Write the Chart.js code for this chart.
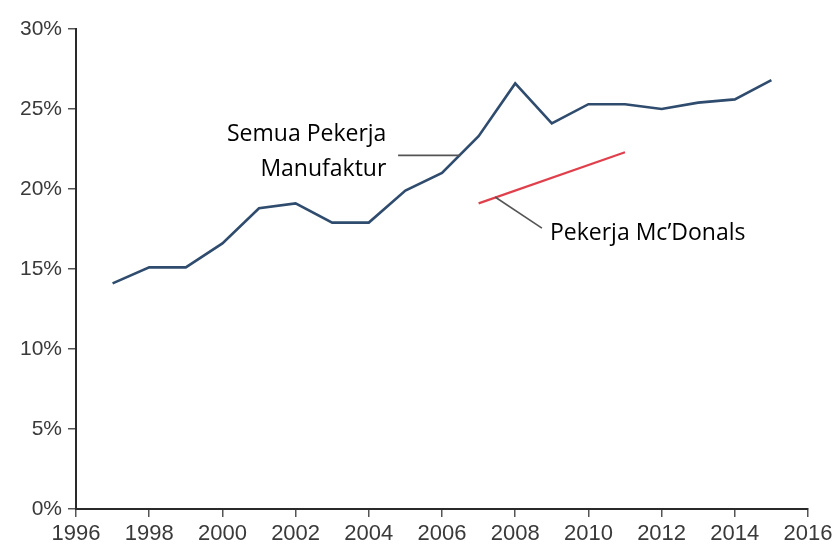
<!DOCTYPE html>
<html>
<head>
<meta charset="utf-8">
<script src="https://cdn.jsdelivr.net/npm/chart.js@4"></script>
<style>
  html, body { margin: 0; padding: 0; background: #fff; }
  #wrap { width: 838px; height: 548px; }
</style>
</head>
<body>
<div id="wrap"><canvas id="chart" width="838" height="548"></canvas></div>
<script>
// ── data ──
const years = [1997, 1998, 1999, 2000, 2001, 2002, 2003, 2004, 2005, 2006,
               2007, 2008, 2009, 2010, 2011, 2012, 2013, 2014, 2015];
const manufaktur = [14.1, 15.1, 15.1, 16.6, 18.8, 19.1, 17.9, 17.9, 19.9, 21.0,
                    23.3, 26.6, 24.1, 25.3, 25.3, 25.0, 25.4, 25.6, 26.8];
const mcdYears = [2007, 2011];
const mcdonals = [19.1, 22.3];
const yTicks = [0, 5, 10, 15, 20, 25, 30];

const AXIS = '#2a2a2a';
const LABEL = '#3a3a3a';

// callout labels, anchored in data units
const callouts = [
    { lines: ['Semua Pekerja', 'Manufaktur'], x: 2004.48, y: [23.4, 21.2], align: 'right',
      from: [2004.8, 22.1], to: [2006.5, 22.1] },
    { lines: ['Pekerja Mc’Donals'], x: 2008.95, y: [17.25], align: 'left',
      from: [2007.45, 19.5], to: [2008.73, 17.55] }
];

const calloutPlugin = {
    id: 'callouts',
    afterDatasetsDraw(chart) {
        const { ctx, scales: { x, y } } = chart;
        ctx.save();
        callouts.forEach(c => {
            ctx.strokeStyle = '#555';
            ctx.lineWidth = 1.6;
            ctx.beginPath();
            ctx.moveTo(x.getPixelForValue(c.from[0]), y.getPixelForValue(c.from[1]));
            ctx.lineTo(x.getPixelForValue(c.to[0]), y.getPixelForValue(c.to[1]));
            ctx.stroke();
            ctx.fillStyle = '#000';
            ctx.font = '23px "Open Sans", sans-serif';
            ctx.textAlign = c.align;
            ctx.textBaseline = 'middle';
            c.lines.forEach((t, i) => {
                ctx.fillText(t, x.getPixelForValue(c.x), y.getPixelForValue(c.y[i]));
            });
        });
        ctx.restore();
    }
};

new Chart(document.getElementById('chart'), {
    type: 'line',
    data: {
        datasets: [{
            label: 'Semua Pekerja Manufaktur',
            data: years.map((yr, i) => ({ x: yr, y: manufaktur[i] })),
            borderColor: '#2f4c6e',
            borderWidth: 2.6,
            pointRadius: 0,
            tension: 0
        }, {
            label: 'Pekerja Mc’Donals',
            data: mcdYears.map((yr, i) => ({ x: yr, y: mcdonals[i] })),
            borderColor: '#e0404c',
            borderWidth: 2.2,
            pointRadius: 0,
            tension: 0
        }]
    },
    options: {
        responsive: false,
        animation: false,
        layout: { padding: { top: 29, right: 30, left: 0, bottom: 0 } },
        plugins: { legend: { display: false }, tooltip: { enabled: false } },
        scales: {
            x: {
                type: 'linear',
                min: 1996,
                max: 2016,
                afterFit: s => { s.height = 39; },
                border: { display: true, color: AXIS, width: 2 },
                grid: { drawOnChartArea: false, drawTicks: true, tickLength: 8, color: '#555', lineWidth: 1.5 },
                ticks: {
                    stepSize: 2,
                    padding: 4,
                    color: LABEL,
                    font: { family: '"Liberation Sans", Arial, sans-serif', size: 22 },
                    maxRotation: 0,
                    callback: v => String(v)
                }
            },
            y: {
                min: 0,
                max: 30,
                afterFit: s => { s.width = 76; },
                afterBuildTicks: s => { s.ticks = yTicks.map(v => ({ value: v })); },
                border: { display: true, color: AXIS, width: 2 },
                grid: { drawOnChartArea: false, drawTicks: true, tickLength: 8, color: '#555', lineWidth: 1.5 },
                ticks: {
                    padding: 6,
                    color: LABEL,
                    font: { family: '"Liberation Sans", Arial, sans-serif', size: 21 },
                    callback: v => v + '%'
                }
            }
        }
    },
    plugins: [calloutPlugin]
});
</script>
</body>
</html>
